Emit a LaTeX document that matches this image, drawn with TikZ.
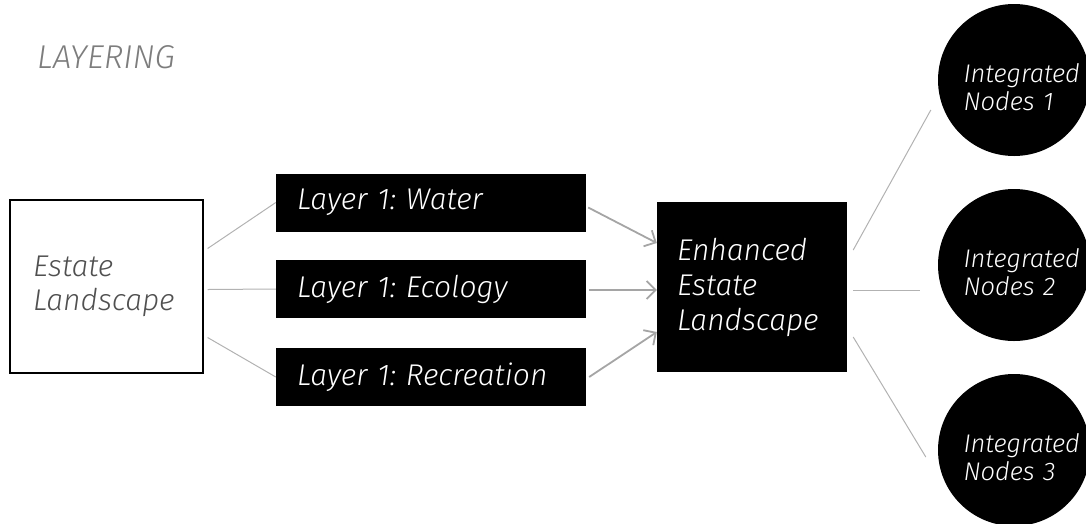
\documentclass[tikz,border=0pt]{standalone}
\usepackage{fontspec}
\setmainfont{Fira Sans}[UprightFont=* Light, ItalicFont=* Light Italic]
\usetikzlibrary{arrows.meta, positioning}
\definecolor{LineGray}{RGB}{178,178,178}
\definecolor{ArrowGray}{RGB}{165,165,165}
\definecolor{TitleGray}{RGB}{125,125,125}
\definecolor{TextGray}{RGB}{80,80,80}
\frenchspacing

\begin{document}
\begin{tikzpicture}[x=1pt, y=-1pt,
    estatebox/.style={draw=black, line width=1.2pt, fill=white, text=TextGray,
      minimum width=193pt, minimum height=173pt, inner xsep=23pt,
      text width=147pt, align=left, font=\fontsize{30}{34}\selectfont\itshape},
    layerbox/.style={fill=black, text=white, minimum width=310pt, minimum height=58pt,
      inner xsep=21pt, text width=268pt, align=left,
      font=\fontsize{30}{34}\selectfont\itshape},
    enhancedbox/.style={fill=black, text=white, minimum width=190pt, minimum height=170pt,
      inner xsep=20pt, text width=150pt, align=left,
      font=\fontsize{30}{35}\selectfont\itshape},
    nodecircle/.style={circle, fill=black, minimum size=152pt, inner sep=0pt},
    nodetext/.style={text=white, text width=125pt, align=left, inner sep=0pt,
      font=\fontsize{25.5}{28}\selectfont\itshape},
    link/.style={draw=LineGray, line width=1pt},
    feed/.style={draw=ArrowGray, line width=1.8pt, -{Straight Barb[length=9pt, width=18pt]}}]

  \useasboundingbox (0,0) rectangle (1086,523);

  % title
  \node[anchor=base west, text=TitleGray, inner sep=0pt,
    font=\fontsize{33}{38}\selectfont\itshape] (title) at (37,68) {LAYERING};

  % base landscape
  \node[estatebox] (estate) at (106.5,286.5) {Estate\\Landscape};

  % layers
  \foreach \n/\t/\y in {water/Water/202.5, ecology/Ecology/289, recreation/Recreation/377} {
    \node[layerbox] (\n) at (431,\y) {Layer 1: \t};
  }

  % result
  \node[enhancedbox] (enhanced) at (752,287) {Enhanced\\Estate\\Landscape};

  % integrated nodes
  \foreach \i/\y in {1/80, 2/265, 3/450} {
    \node[nodecircle] (int\i) at (1014,\y) {};
    \node[nodetext] at ([xshift=12pt, yshift=-7pt]int\i.center) {Integrated\\Nodes \i};
  }

  % connectors
  \draw[link] ([xshift=4pt, yshift=38pt]estate.east) -- (water.west);
  \draw[link] ([xshift=4pt, yshift=-3pt]estate.east) -- (ecology.west);
  \draw[link] ([xshift=4pt, yshift=-51pt]estate.east) -- (recreation.west);

  \draw[feed] ([xshift=2pt, yshift=-5pt]water.east) -- ([yshift=44pt]enhanced.west);
  \draw[feed] ([xshift=3pt, yshift=-1pt]ecology.east) -- ([yshift=-3pt]enhanced.west);
  \draw[feed] ([xshift=3pt]recreation.east) -- ([yshift=-45pt]enhanced.west);

  \draw[link] ([xshift=6pt, yshift=37pt]enhanced.east) -- ([xshift=-7pt, yshift=-30pt]int1.west);
  \draw[link] ([xshift=6pt, yshift=-3pt]enhanced.east) -- ([xshift=-18pt, yshift=-25pt]int2.west);
  \draw[link] ([xshift=6pt, yshift=-50pt]enhanced.east) -- ([xshift=-12pt, yshift=-7pt]int3.west);
\end{tikzpicture}
\end{document}
